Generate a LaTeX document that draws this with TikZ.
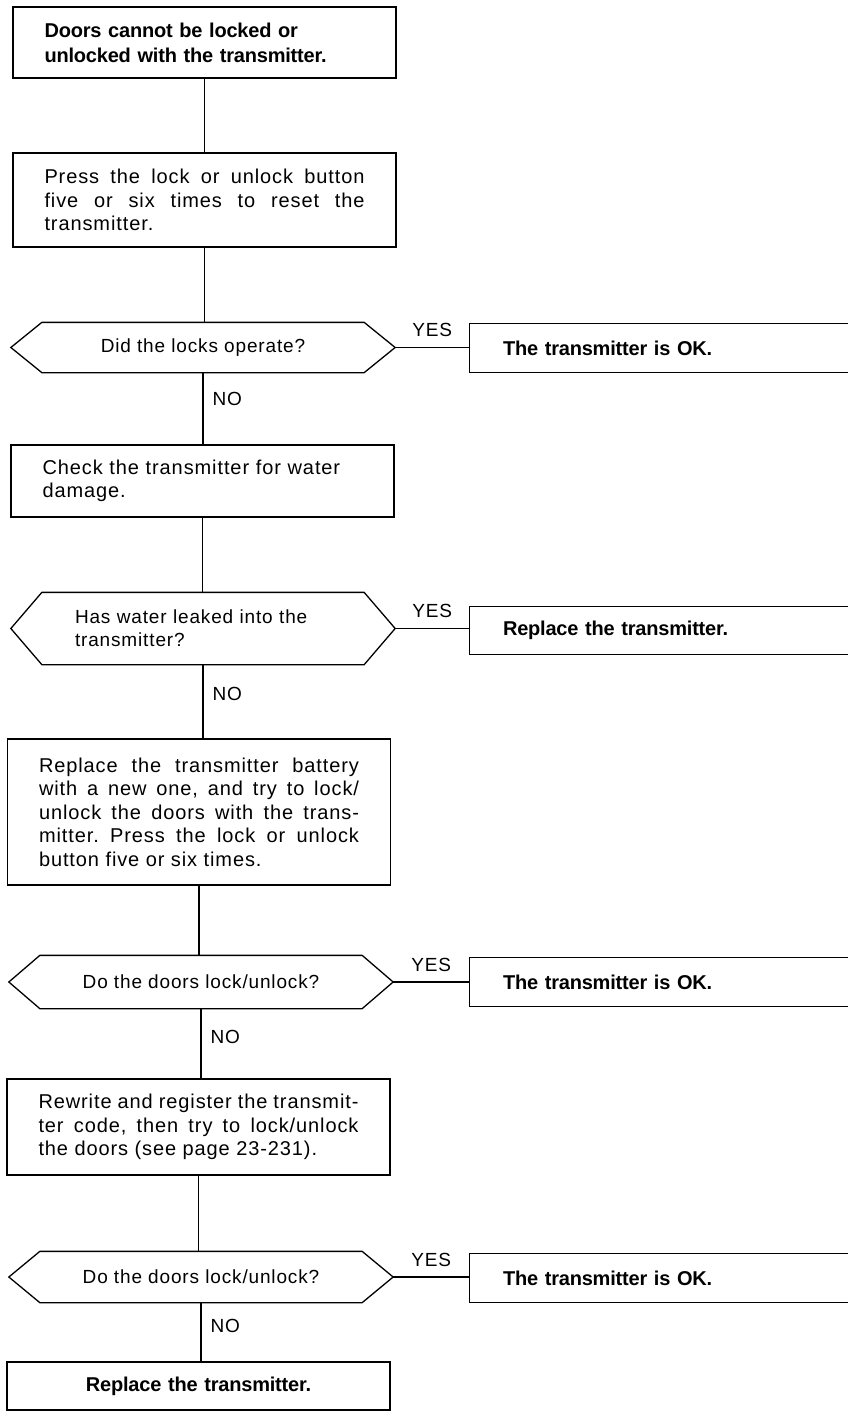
\documentclass[tikz,border=0pt]{standalone}
\usepackage{fontspec}
\setmainfont{Liberation Sans}[LetterSpace=4.5]
\newfontfamily\headfont{Liberation Sans}[LetterSpace=-1]
\usepackage{tikz}
\usetikzlibrary{positioning}
\frenchspacing

\begin{document}
\begin{tikzpicture}[x=1pt,y=-1pt,line width=1.3pt,
	stepbox/.style={draw, rectangle, text width=320pt, inner xsep=31.5pt, inner ysep=0pt, align=justify, font=\fontsize{20pt}{23.5pt}\selectfont},
	query/.style={rectangle, minimum width=383pt, inner sep=0pt, align=center, font=\fontsize{19pt}{23pt}\selectfont},
	okbox/.style={rectangle, minimum width=377pt, text width=311pt, inner xsep=33pt, inner ysep=0pt, align=left, font=\headfont\bfseries\fontsize{20pt}{22pt}\selectfont},
	answer/.style={inner sep=0pt, font=\fontsize{19pt}{22pt}\selectfont}]
	\useasboundingbox (0,0) rectangle (847,1412);
	
	\node[stepbox, minimum height=71pt, align=left, font=\headfont\bfseries\fontsize{20pt}{25pt}\selectfont] (start) at (204.5,42.5) {Doors cannot be locked or\\unlocked with the transmitter.};
	\node[stepbox, minimum height=94pt] (reset) at (204.5,200) {Press the lock or unlock button\linebreak five or six times to reset the\linebreak transmitter.};
	\node[query, minimum height=49pt] (lockop) at (203,347.5) {Did the locks operate?};
	\node[okbox, minimum height=48pt] (okA) at (658.5,348) {The transmitter is OK.};
	\node[stepbox, minimum height=72pt, align=left] (water) at (202.5,481) {Check the transmitter for water\\damage.};
	\node[query, minimum height=71pt, text width=256pt, align=left] (leak) at (203,628.5) {Has water leaked into the\\transmitter?};
	\node[okbox, minimum height=47pt] (okB) at (658.5,630.5) {Replace the transmitter.};
	\node[stepbox, minimum height=146pt] (battery) at (199,812) {Replace the transmitter battery\linebreak with a new one, and try to lock/\linebreak unlock the doors with the trans-\linebreak{}mitter. Press the lock or unlock\linebreak button five or six times.};
	\node[query, minimum height=52pt] (doorsA) at (201,982) {Do the doors lock/unlock?};
	\node[okbox, minimum height=48pt] (okC) at (658.5,982) {The transmitter is OK.};
	\node[stepbox, minimum height=96pt] (code) at (198.5,1127) {Rewrite and register the transmit-\linebreak{}ter code, then try to lock/unlock\linebreak the doors (see page 23-231).};
	\node[query, minimum height=50pt] (doorsB) at (201,1277) {Do the doors lock/unlock?};
	\node[okbox, minimum height=48pt] (okD) at (658.5,1278) {The transmitter is OK.};
	\node[stepbox, minimum height=48pt, align=center, font=\headfont\bfseries\fontsize{20pt}{22pt}\selectfont] (fail) at (198.5,1386) {Replace the transmitter.};
	
	\foreach \h in {lockop,leak,doorsA,doorsB}
	\draw (\h.west) -- ([xshift=31pt]\h.north west) -- ([xshift=-31pt]\h.north east) -- (\h.east) -- ([xshift=-31pt]\h.south east) -- ([xshift=31pt]\h.south west) -- cycle;
	\foreach \r in {okA,okB,okC,okD}
	\draw (\r.north east) -- (\r.north west) -- (\r.south west) -- (\r.south east);
	
	\draw (start.south) -- (start.south |- reset.north);
	\draw (reset.south) -- (reset.south |- lockop.north);
	\draw (lockop.south) -- node[answer, pos=0.36, right=9pt] {NO} (lockop.south |- water.north);
	\draw (water.south) -- (water.south |- leak.north);
	\draw (leak.south) -- node[answer, pos=0.4, right=9pt] {NO} (leak.south |- battery.north);
	\draw (battery.south) -- (battery.south |- doorsA.north);
	\draw (doorsA.south) -- node[answer, pos=0.4, right=9pt] {NO} (doorsA.south |- code.north);
	\draw (code.south) -- (code.south |- doorsB.north);
	\draw (doorsB.south) -- node[answer, pos=0.4, right=9pt] {NO} (doorsB.south |- fail.north);
	\foreach \q/\a in {lockop/okA,leak/okB,doorsA/okC,doorsB/okD}
	\draw (\q.east) -- node[answer, above=10pt] {YES} (\q.east -| \a.west);
\end{tikzpicture}
\end{document}
